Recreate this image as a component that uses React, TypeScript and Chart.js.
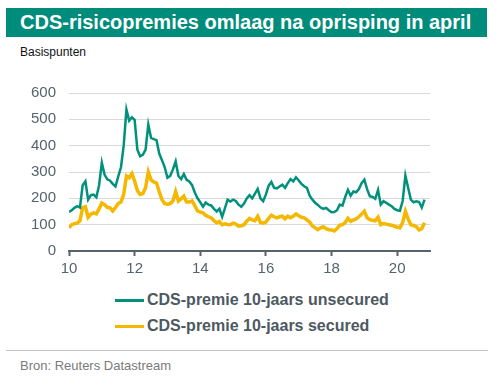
import React, { useEffect, useRef } from "react";
import { Chart, registerables } from "chart.js";

Chart.register(...registerables);

const title = "CDS-risicopremies omlaag na oprisping in april";
const unitLabel = "Basispunten";
const sourceLabel = "Bron: Reuters Datastream";
const seriesNames = ["CDS-premie 10-jaars unsecured", "CDS-premie 10-jaars secured"];

// Monthly observations, Jan 2010 .. Nov 2020 (x axis in years since 2000)
const startYear = 10;
const xTickLabels = ["10", "12", "14", "16", "18", "20"];

const unsecured = [
  148, 155, 164, 170, 165, 250, 265, 195, 212, 214,
  204, 250, 335, 290, 272, 267, 255, 245, 283, 318,
  400, 537, 495, 508, 498, 385, 360, 365, 385, 480,
  430, 425, 421, 370, 345, 318, 278, 285, 310, 340,
  285, 273, 292, 270, 264, 250, 222, 200, 185, 168,
  184, 176, 173, 160, 150, 160, 130, 162, 195, 188,
  195, 190, 176, 168, 180, 200, 212, 200, 218, 236,
  200, 189, 215, 248, 262, 240, 238, 245, 252, 240,
  258, 273, 264, 280, 268, 255, 246, 240, 210, 195,
  183, 175, 165, 160, 164, 155, 147, 148, 155, 176,
  172, 205, 232, 210, 226, 223, 235, 258, 271, 235,
  208, 205, 198, 232, 176, 189, 183, 176, 170, 160,
  155, 153, 190, 286, 240, 195, 185, 189, 186, 165,
  195,
];

const secured = [
  88, 100, 104, 106, 115, 165, 168, 128, 140, 145,
  141, 160, 182, 176, 166, 164, 152, 165, 180, 186,
  215, 285, 278, 294, 265, 230, 215, 218, 240, 300,
  270, 262, 258, 225, 195, 180, 178, 180, 190, 225,
  190, 198, 208, 186, 186, 190, 172, 152, 148, 145,
  135, 130, 126, 115, 107, 112, 100, 103, 101, 100,
  106, 102, 94, 96, 100, 113, 124, 118, 115, 132,
  108, 106, 110, 124, 136, 130, 126, 130, 132, 122,
  132, 126, 132, 141, 134, 128, 126, 118, 110, 95,
  88, 81, 88, 92, 85, 81, 80, 76, 85, 98,
  100, 108, 124, 113, 118, 122, 130, 140, 151, 126,
  119, 117, 115, 128, 100, 104, 102, 100, 98, 94,
  90, 88, 108, 151, 122, 100, 97, 92, 80, 85,
  107,
];

const TEAL = "#00917c";
const YELLOW = "#f5b700";
const AXIS = "#56636b";
const FONT = "'Liberation Sans', Arial, sans-serif";

function toPoints(values: number[]) {
  return values.map((v, i) => ({ x: startYear + i / 12, y: v }));
}

export default function App() {
  const canvasRef = useRef<HTMLCanvasElement | null>(null);

  useEffect(() => {
    if (!canvasRef.current) return;
    const chart = new Chart(canvasRef.current, {
      type: "line",
      data: {
        datasets: [
          {
            label: seriesNames[0],
            data: toPoints(unsecured),
            borderColor: TEAL,
            backgroundColor: TEAL,
            borderWidth: 2.5,
            pointRadius: 0,
            tension: 0,
          },
          {
            label: seriesNames[1],
            data: toPoints(secured),
            borderColor: YELLOW,
            backgroundColor: YELLOW,
            borderWidth: 3.5,
            pointRadius: 0,
            tension: 0,
          },
        ],
      },
      options: {
        animation: false,
        responsive: false,
        maintainAspectRatio: false,
        layout: { padding: { top: 0, right: 10, left: 0, bottom: 0 } },
        plugins: { legend: { display: false }, tooltip: { enabled: false } },
        scales: {
          x: {
            type: "linear",
            min: 10,
            max: 21,
            ticks: {
              stepSize: 2,
              includeBounds: false,
              color: AXIS,
              font: { family: FONT, size: 15 },
              padding: 4,
              maxRotation: 0,
              callback: (v: any) => {
                const s = String(v);
                return xTickLabels.includes(s) ? s : "";
              },
            },
            grid: {
              drawOnChartArea: false,
              drawTicks: true,
              tickLength: 5,
              tickWidth: 2,
              tickColor: AXIS,
            },
            border: { display: true, color: AXIS, width: 2 },
            afterFit: (s: any) => {
              s.height = 30;
            },
          },
          y: {
            min: 0,
            max: 600,
            ticks: {
              stepSize: 100,
              color: AXIS,
              font: { family: FONT, size: 15 },
              padding: 13,
            },
            grid: { color: "#d9d9d9", lineWidth: 1, drawTicks: false },
            border: { display: false },
            afterFit: (s: any) => {
              s.width = 69;
            },
          },
        },
      },
    } as any);
    return () => chart.destroy();
  }, []);

  const legendRow = (color: string, text: string, top: number, thick: number) => (
    <div style={{ position: "absolute", left: 115, top, height: 20, display: "flex", alignItems: "center" }}>
      <div style={{ width: 29, height: thick, background: color, marginRight: 3 }} />
      <span style={{ fontFamily: FONT, fontWeight: "bold", fontSize: 16, color: "#4d5962", whiteSpace: "nowrap" }}>{text}</span>
    </div>
  );

  return (
    <div style={{ position: "absolute", left: 0, top: 0, width: 500, height: 379, background: "#fff", overflow: "hidden" }}>
      <div
        style={{
          position: "absolute",
          left: 6,
          top: 8,
          width: 481,
          height: 29,
          background: "#008c7a",
          color: "#fff",
          fontFamily: FONT,
          fontWeight: "bold",
          fontSize: 20,
          lineHeight: "29px",
          paddingLeft: 14,
          boxSizing: "border-box",
          whiteSpace: "nowrap",
        }}
      >
        {title}
      </div>
      <div style={{ position: "absolute", left: 20, top: 45, fontFamily: FONT, fontSize: 12, color: "#111" }}>{unitLabel}</div>
      <canvas ref={canvasRef} width={440} height={210} style={{ position: "absolute", left: 0, top: 71, width: 440, height: 210 }} />
      {legendRow(TEAL, seriesNames[0], 290, 3)}
      {legendRow(YELLOW, seriesNames[1], 316, 3)}
      <div style={{ position: "absolute", left: 6, top: 350, width: 482, height: 1, background: "#c4c4c4" }} />
      <div style={{ position: "absolute", left: 20, top: 358, fontFamily: FONT, fontSize: 13, color: "#7a7a7a" }}>{sourceLabel}</div>
    </div>
  );
}
